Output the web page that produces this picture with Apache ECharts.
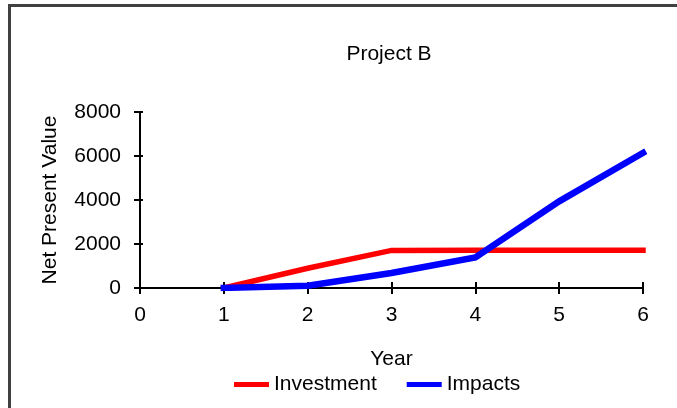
<!DOCTYPE html>
<html>
<head>
<meta charset="utf-8">
<script src="https://cdn.jsdelivr.net/npm/echarts@6/dist/echarts.min.js"></script>
<style>
  html, body { margin: 0; padding: 0; background: #fff; }
  #frame {
    position: absolute; left: 8px; top: 4px; width: 720px; height: 440px;
    border-left: 3px solid #404040; border-top: 3px solid #404040;
  }
  #chart { position: absolute; left: 0; top: 0; width: 677px; height: 408px; }
</style>
</head>
<body>
<div id="frame"></div>
<div id="chart"></div>
<script>
// Net present value per year
const years = [1, 2, 3, 4, 5, 6];
const investment = [0, 900, 1710, 1720, 1720, 1720];
const impacts = [0, 100, 680, 1390, 3940, 6140];
const xTicks = [0, 1, 2, 3, 4, 5, 6];
const yTicks = [0, 2000, 4000, 6000, 8000];

const font = 'Arial, "Liberation Sans", sans-serif';
const pairs = (vals) => years.map((y, i) => [y, vals[i]]);

const chart = echarts.init(document.getElementById('chart'), null, { renderer: 'canvas' });

const axisText = { color: '#000', fontSize: 21, fontFamily: font };

chart.setOption({
  backgroundColor: 'transparent',
  animation: false,
  title: {
    text: 'Project B',
    left: 384, top: 39, textAlign: 'center',
    textStyle: { color: '#000', fontSize: 21, fontWeight: 'normal', fontFamily: font }
  },
  legend: {
    left: 229, top: 369,
    itemWidth: 35, itemHeight: 5, itemGap: 30,
    icon: 'rect',
    textStyle: { color: '#000', fontSize: 21, fontFamily: font, padding: [0, 0, 0, 0] },
    data: ['Investment', 'Impacts']
  },
  grid: { left: 140, right: 34, top: 112, bottom: 120, containLabel: false },
  xAxis: [
    {
      type: 'value', min: xTicks[0], max: xTicks[xTicks.length - 1], interval: 1,
      name: 'Year', nameLocation: 'middle', nameGap: 61,
      nameTextStyle: axisText,
      axisLine: { show: true, onZero: false, lineStyle: { color: '#000', width: 2 } },
      axisTick: { show: true, length: 6, lineStyle: { color: '#000', width: 2 } },
      axisLabel: Object.assign({ margin: 17, formatter: (v) => String(v) }, axisText),
      splitLine: { show: false }
    },
    {
      type: 'value', min: xTicks[0], max: xTicks[xTicks.length - 1], interval: 1,
      position: 'bottom',
      axisLine: { show: false },
      axisTick: { show: true, inside: true, length: 6, lineStyle: { color: '#000', width: 2 } },
      axisLabel: { show: false },
      splitLine: { show: false }
    }
  ],
  yAxis: [
    {
      type: 'value', min: yTicks[0], max: yTicks[yTicks.length - 1], interval: 2000,
      name: 'Net Present Value', nameLocation: 'middle', nameGap: 79,
      nameTextStyle: axisText,
      axisLine: { show: true, lineStyle: { color: '#000', width: 2 } },
      axisTick: { show: true, length: 6, lineStyle: { color: '#000', width: 2 } },
      axisLabel: Object.assign({ margin: 19, formatter: (v) => String(v) }, axisText),
      splitLine: { show: false }
    },
    {
      type: 'value', min: yTicks[0], max: yTicks[yTicks.length - 1], interval: 2000,
      position: 'left',
      axisLine: { show: false },
      axisTick: { show: true, inside: true, length: 3, lineStyle: { color: '#000', width: 2 } },
      axisLabel: { show: false },
      splitLine: { show: false }
    }
  ],
  series: [
    {
      name: 'Investment', type: 'line', data: pairs(investment),
      symbol: 'none', color: '#ff0000',
      lineStyle: { color: '#ff0000', width: 5.5, cap: 'square', join: 'miter' },
      z: 2
    },
    {
      name: 'Impacts', type: 'line', data: pairs(impacts),
      symbol: 'none', color: '#0000ff',
      lineStyle: { color: '#0000ff', width: 6.5, cap: 'square', join: 'miter' },
      z: 3
    }
  ]
});
</script>
</body>
</html>
